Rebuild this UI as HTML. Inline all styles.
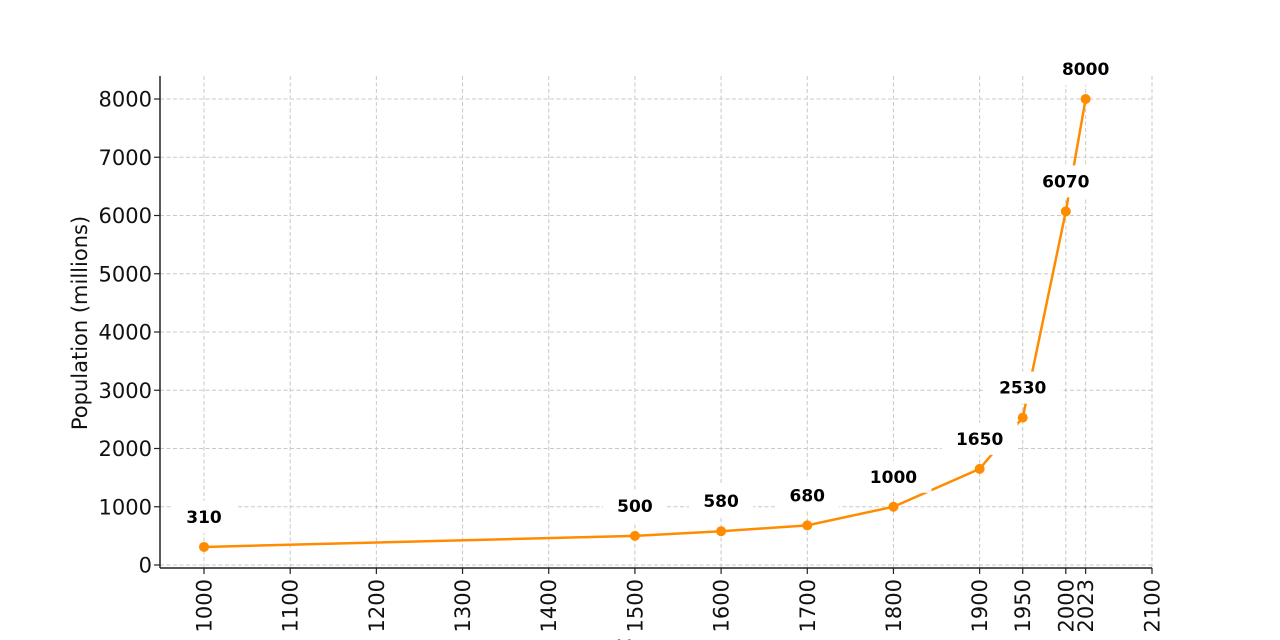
<!DOCTYPE html>
<html><head><meta charset="utf-8"><style>
html,body{margin:0;padding:0;background:#fff;}
svg{display:block;font-family:"DejaVu Sans","Liberation Sans",sans-serif;}
</style></head><body>
<svg id="chart" width="1280" height="640" viewBox="0 0 1280 640">
<g id="grid"></g>
<g id="series"></g>
<g id="labels"></g>
<g id="axes"></g>
<text transform="translate(87,323) rotate(-90)" text-anchor="middle" font-size="21" fill="#111">Population (millions)</text>
<text x="640" y="655" text-anchor="middle" font-size="21" fill="#111">Year</text>
</svg>
<script>
const years = [1000, 1500, 1600, 1700, 1800, 1900, 1950, 2000, 2023];
const population = [310, 500, 580, 680, 1000, 1650, 2530, 6070, 8000];
const xTicks = [1000, 1100, 1200, 1300, 1400, 1500, 1600, 1700, 1800, 1900, 1950, 2000, 2023, 2100];
const yTicks = [0, 1000, 2000, 3000, 4000, 5000, 6000, 7000, 8000];

const NS = "http://www.w3.org/2000/svg";
const X0 = 204, X1 = 1152, Y0 = 565, Y1 = 99;
const xs = v => X0 + (v - 1000) * (X1 - X0) / 1100;
const ys = v => Y0 + v * (Y1 - Y0) / 8000;
const pLeft = 160, pRight = 1152, pTop = 76, pBottom = 568;
function mk(tag, attrs, parent) {
  const e = document.createElementNS(NS, tag);
  for (const k in attrs) e.setAttribute(k, attrs[k]);
  parent.appendChild(e);
  return e;
}
const gridG = document.getElementById('grid');
const axesG = document.getElementById('axes');
const seriesG = document.getElementById('series');
const labelsG = document.getElementById('labels');

xTicks.forEach(t => {
  const x = xs(t);
  const g = mk('line', {x1: x, x2: x, y1: pTop, y2: pBottom, stroke: '#c8c8c8', 'stroke-width': 1, 'stroke-dasharray': '4,2.5'}, gridG);
  
  
  const tk = mk('line', {x1: x, x2: x, y1: pBottom, y2: pBottom + 6, stroke: '#222', 'stroke-width': 1.2}, axesG);
  
  
  const tl = mk('text', {transform: `translate(${x + 7.5},${pBottom + 11}) rotate(-90)`, 'text-anchor': 'end', 'font-size': 21, fill: '#111'}, axesG);
  tl.textContent = t;
  
  
});
yTicks.forEach(t => {
  const y = ys(t);
  const g = mk('line', {x1: pLeft, x2: pRight, y1: y, y2: y, stroke: '#c8c8c8', 'stroke-width': 1, 'stroke-dasharray': '4,2.5'}, gridG);
  
  
  const tk = mk('line', {x1: pLeft - 6, x2: pLeft, y1: y, y2: y, stroke: '#222', 'stroke-width': 1.2}, axesG);
  
  
  const tl = mk('text', {x: pLeft - 8, y: y + 7.5, 'text-anchor': 'end', 'font-size': 21, fill: '#111'}, axesG);
  tl.textContent = t;
  
  
});
const sp1 = mk('line', {x1: pLeft, x2: pLeft, y1: pTop, y2: pBottom, stroke: '#222', 'stroke-width': 1.5}, axesG);


const sp2 = mk('line', {x1: pLeft, x2: pRight, y1: pBottom, y2: pBottom, stroke: '#222', 'stroke-width': 1.5}, axesG);



const pts = years.map((y, i) => xs(y) + ',' + ys(population[i])).join(' ');
const line = mk('polyline', {points: pts, fill: 'none', stroke: '#ff8c00', 'stroke-width': 2.5}, seriesG);


years.forEach((yr, i) => {
  const c = mk('circle', {cx: xs(yr), cy: ys(population[i]), r: 5, fill: '#ff8c00'}, seriesG);
  
  
  const cx = xs(yr), cy = ys(population[i]) - 30;
  const w = String(population[i]).length * 12 + 28;
  const r = mk('rect', {x: cx - w / 2, y: cy - 16, width: w, height: 32, fill: '#fff'}, labelsG);
  
  
  const t = mk('text', {x: cx, y: cy + 6, 'text-anchor': 'middle', 'font-size': 17, 'font-weight': 'bold', fill: '#000'}, labelsG);
  t.textContent = population[i];
  
  
});
</script>
</body></html>
